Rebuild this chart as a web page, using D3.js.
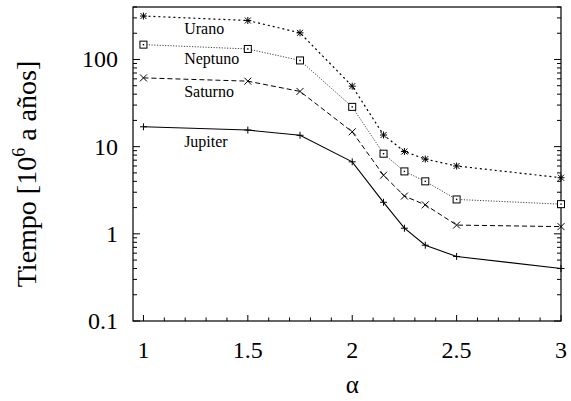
<!DOCTYPE html>
<html>
<head>
<meta charset="utf-8">
<script src="https://cdn.jsdelivr.net/npm/d3@7"></script>
<style>
  html, body { margin: 0; padding: 0; background: #fff; }
  svg text { font-family: "Liberation Serif", "Times New Roman", Times, serif; }
</style>
</head>
<body>
<svg id="chart" width="571" height="401"></svg>
<script>
// Exponent alpha of the model
const alphas = [1, 1.5, 1.75, 2, 2.15, 2.25, 2.35, 2.5, 3];

// Time scale for each planet, in 10^6 years
const jupiter = [16.9, 15.5, 13.5, 6.7, 2.3, 1.16, 0.74, 0.55, 0.40];
const saturno = [61.5, 56.4, 43, 14.8, 4.7, 2.71, 2.15, 1.26, 1.21];
const neptuno = [148, 132, 97.5, 28.6, 8.3, 5.2, 4.0, 2.48, 2.19];
const urano   = [315, 280, 202, 49.4, 13.6, 8.8, 7.2, 6.0, 4.4];

const seriesNames = ["Jupiter", "Saturno", "Neptuno", "Urano"];
const seriesValues = [jupiter, saturno, neptuno, urano];

const xTicks = [1, 1.5, 2, 2.5, 3];
const yTicks = [0.1, 1, 10, 100];

const svg = d3.select("#chart");
const m = { left: 133, right: 10, top: 7, bottom: 80 };
const W = 571, H = 401;
const x = d3.scaleLinear().domain([0.95, 3]).range([m.left, W - m.right]);
const y = d3.scaleLog().domain([0.1, 400]).range([H - m.bottom, m.top]);

const x0 = x.range()[0], x1 = x.range()[1];
const y0 = y.range()[0], y1 = y.range()[1];

// Minor tick positions
const yMinor = [];
for (let e = -1; e <= 2; e++) {
  for (let k = 2; k <= 9; k++) {
    const v = k * Math.pow(10, e);
    if (v <= 400) yMinor.push(v);
  }
}
const xMinor = d3.range(1, 3.001, 0.1).map(v => +v.toFixed(2)).filter(v => !xTicks.includes(v));

const axisG = svg.append("g").attr("stroke", "#000").attr("stroke-width", 1);

// Frame
svg.append("rect")
  .attr("x", x0).attr("y", y1)
  .attr("width", x1 - x0).attr("height", y0 - y1)
  .attr("fill", "none").attr("stroke", "#000").attr("stroke-width", 1.2);

// Left and right y ticks (inward)
[[x0, 1], [x1, -1]].forEach(([xx, dir]) => {
  axisG.selectAll(null).data(yTicks).join("line")
    .attr("x1", xx).attr("x2", xx + dir * 7)
    .attr("y1", d => y(d)).attr("y2", d => y(d));
  axisG.selectAll(null).data(yMinor).join("line")
    .attr("x1", xx).attr("x2", xx + dir * 4)
    .attr("y1", d => y(d)).attr("y2", d => y(d));
});

// Bottom x ticks (inward)
axisG.selectAll(null).data(xTicks).join("line")
  .attr("x1", d => x(d)).attr("x2", d => x(d))
  .attr("y1", y0).attr("y2", y0 - 6);
axisG.selectAll(null).data(xMinor).join("line")
  .attr("x1", d => x(d)).attr("x2", d => x(d))
  .attr("y1", y0).attr("y2", y0 - 3.5);

// Tick labels
const fmtY = d => d >= 1 ? d3.format("d")(d) : String(d);
svg.append("g").selectAll("text").data(yTicks).join("text")
  .attr("x", x0 - 15).attr("y", d => y(d) + 8)
  .attr("text-anchor", "end")
  .attr("font-size", 24)
  .text(fmtY);

svg.append("g").selectAll("text").data(xTicks).join("text")
  .attr("x", d => x(d)).attr("y", y0 + 37)
  .attr("text-anchor", "middle")
  .attr("font-size", 24)
  .text(d => String(d));

// Axis titles
svg.append("text")
  .attr("x", x(2)).attr("y", 393)
  .attr("text-anchor", "middle")
  .attr("font-size", 25)
  .text("α");

const yt = svg.append("text")
  .attr("transform", `translate(36,${(y0 + y1) / 2 + 10}) rotate(-90)`)
  .attr("text-anchor", "middle")
  .attr("font-size", 28);
yt.append("tspan").text("Tiempo [10");
yt.append("tspan").attr("dy", -11).attr("font-size", 18).text("6");
yt.append("tspan").attr("dy", 11).text(" a años]");

// Series styles
const styles = [
  { dash: null, color: "#000", width: 1.1 },
  { dash: "5,3", color: "#000", width: 1 },
  { dash: "1.2,1.5", color: "#444", width: 1 },
  { dash: "2,3", color: "#000", width: 1.2 }
];

const line = d3.line().x((d, i) => x(alphas[i])).y(d => y(d));

seriesValues.forEach((vals, s) => {
  const st = styles[s];
  svg.append("path")
    .datum(vals)
    .attr("d", line)
    .attr("fill", "none")
    .attr("stroke", st.color)
    .attr("stroke-width", st.width)
    .attr("stroke-dasharray", st.dash);

  const g = svg.append("g").attr("stroke", "#000").attr("stroke-width", 1).attr("fill", "none");
  const r = 3.5;
  vals.forEach((v, i) => {
    const cx = x(alphas[i]), cy = y(v);
    const plus = () => {
      g.append("line").attr("x1", cx - r).attr("x2", cx + r).attr("y1", cy).attr("y2", cy);
      g.append("line").attr("x1", cx).attr("x2", cx).attr("y1", cy - r).attr("y2", cy + r);
    };
    const cross = (q) => {
      g.append("line").attr("x1", cx - q).attr("x2", cx + q).attr("y1", cy - q).attr("y2", cy + q);
      g.append("line").attr("x1", cx - q).attr("x2", cx + q).attr("y1", cy + q).attr("y2", cy - q);
    };
    if (s === 0) plus();
    else if (s === 1) cross(r);
    else if (s === 2) {
      g.append("rect").attr("x", cx - 3.5).attr("y", cy - 3.5).attr("width", 7).attr("height", 7).attr("fill", "#fff");
      g.append("rect").attr("x", cx - 0.7).attr("y", cy - 0.7).attr("width", 1.4).attr("height", 1.4).attr("fill", "#000").attr("stroke", "none");
    } else {
      plus(); cross(3);
    }
  });
});

// Series labels
const labelPos = [
  { name: seriesNames[0], x: 1.195, v: 10.0 },
  { name: seriesNames[1], x: 1.195, v: 37 },
  { name: seriesNames[2], x: 1.195, v: 88 },
  { name: seriesNames[3], x: 1.195, v: 195 }
];
svg.append("g").selectAll("text").data(labelPos).join("text")
  .attr("x", d => x(d.x)).attr("y", d => y(d.v))
  .attr("font-size", 16)
  .text(d => d.name);
</script>
</body>
</html>
